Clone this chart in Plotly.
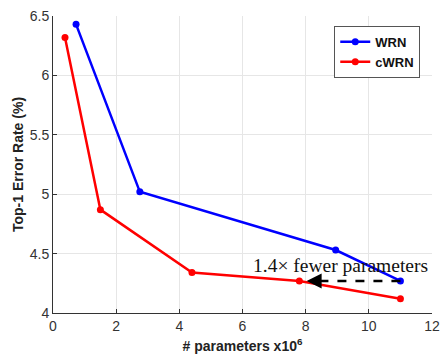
import plotly.graph_objects as go

wrn_x = [0.73, 2.75, 8.95, 11.0]
wrn_y = [6.43, 5.02, 4.53, 4.27]
cwrn_x = [0.38, 1.5, 4.4, 7.8, 11.0]
cwrn_y = [6.32, 4.87, 4.34, 4.27, 4.12]
arrow_x = [11.0, 8.4]
arrow_y = [4.27, 4.27]
arrow_tip_x = 8.03
x_ticks = [0, 2, 4, 6, 8, 10, 12]
y_ticks = [4, 4.5, 5, 5.5, 6, 6.5]
y_tick_text = ["4", "4.5", "5", "5.5", "6", "6.5"]

fig = go.Figure()
fig.add_trace(go.Scatter(x=wrn_x, y=wrn_y, mode="lines+markers", name="<b>WRN</b>",
                         line=dict(color="#0000ff", width=2.5),
                         marker=dict(size=7, color="#0000ff")))
fig.add_trace(go.Scatter(x=cwrn_x, y=cwrn_y, mode="lines+markers", name="<b>cWRN</b>",
                         line=dict(color="#ff0000", width=2.5),
                         marker=dict(size=7, color="#ff0000")))
fig.add_trace(go.Scatter(x=arrow_x, y=arrow_y, mode="lines", showlegend=False,
                         line=dict(color="black", width=2.5, dash="dash"), hoverinfo="skip"))
fig.add_annotation(x=arrow_tip_x, y=arrow_y[1], ax=arrow_x[1], ay=arrow_y[1], axref="x", ayref="y",
                   xref="x", yref="y", showarrow=True, arrowhead=2, arrowsize=1.2,
                   arrowwidth=2.5, arrowcolor="black", text="")
fig.add_annotation(x=9.1, y=4.40, xref="x", yref="y", showarrow=False,
                   text="1.4× fewer parameters",
                   font=dict(family="Liberation Serif", size=19.5, color="#111"))

axis_common = dict(showgrid=True, gridcolor="#e6e6e6", gridwidth=1,
                   showline=True, linecolor="#333", linewidth=1, mirror=False,
                   ticks="inside", ticklen=4, tickcolor="#333",
                   tickfont=dict(family="Liberation Sans", size=14, color="#333"),
                   zeroline=False)
fig.update_xaxes(range=[0, 12], tickvals=x_ticks, **axis_common,
                 title=dict(text="<b># parameters x10<sup>6</sup></b>", standoff=8,
                            font=dict(family="Liberation Sans", size=14, color="#222")))
fig.update_yaxes(range=[4, 6.5], tickvals=y_ticks, ticktext=y_tick_text, **axis_common,
                 title=dict(text="<b>Top-1 Error Rate (%)</b>", standoff=2,
                            font=dict(family="Liberation Sans", size=14, color="#222")))
fig.update_layout(width=448, height=360, margin=dict(l=53, r=8, t=13, b=45),
                  plot_bgcolor="white", paper_bgcolor="white",
                  legend=dict(x=0.969, y=0.967, xanchor="right", yanchor="top",
                              bgcolor="white", bordercolor="#555", borderwidth=1,
                              font=dict(family="Liberation Sans", size=13, color="#111"),
                              itemwidth=30, tracegroupgap=0))
fig.write_html("out.html")
